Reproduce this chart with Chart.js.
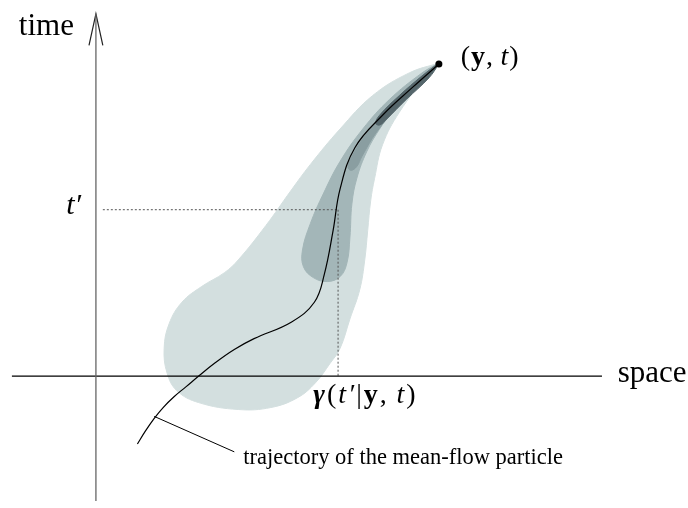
<!DOCTYPE html>
<html>
<head>
<meta charset="utf-8">
<script src="https://cdn.jsdelivr.net/npm/chart.js@4.4.0/dist/chart.umd.min.js"></script>
<style>
  body { margin: 0; background: #fff; }
  canvas { display: block; }
</style>
</head>
<body>
<canvas id="sketch" width="688" height="508"></canvas>
<script>
// all points in (space, time) units, origin where the two axes cross

// light probability cloud
const outerCloud = [[347,318],[317,308],[280,285],[247,251],[217,215],[197,188],[172,153],[144,118],[130,105],
  [107,91],[87,75],[74,53],[69,28],[72,3],[82,-15],[104,-27],[144,-34],[177,-32],[204,-22],[222,-7],
  [237,13],[247,28],[257,58],[267,88],[272,118],[275,148],[278,178],[282,201],[290,235],[307,268],
  [337,308],[347,317]];
// medium band
const midCloud = [[347,318],[330,308],[297,281],[270,251],[247,218],[230,185],[217,155],[209,128],[210,111],
  [220,100],[234,96],[247,101],[254,115],[257,141],[259,175],[264,201],[274,228],[287,251],[304,275],
  [324,298],[344,315],[347,317]];
// darker core
const innerCloud = [[347,318],[340,313],[314,288],[290,265],[270,241],[259,223],[255,213],[258,209],
  [264,213],[269,223],[284,248],[307,275],[337,305],[347,317]];
const coreStreak = [[347,318],[330,305],[307,285],[287,265],[283,257],[287,255],[294,261],[314,281],
  [337,303],[347,317]];

// mean-flow particle trajectory
const trajectory = [[42,-69],[50,-56],[59,-43],[68,-32],[79,-21],[91,-11],[104,0],[120,13],[140,27],
  [160,38],[198,55],[221,75],[231,103],[240,148],[247,190],[262,232],[290,265],[320,293],[347,317]];
const leader = [[59,-41],[140,-77]];

const endPoint = [[347,317]];
const tPrime = 169;
const gammaX = 245;

// axes
const timeAxis = [[0,-127],[0,368]];
const arrowHead = [[-7,336],[0,368],[7,336]];
const spaceAxis = [[-85,0],[512,0]];

// text labels: pieces of [text, style]
const labels = [
  { at: [-78,347], size: 31, gap: 0, parts: [['time','']] },
  { at: [528,-6], size: 31, gap: 0, parts: [['space','']] },
  { at: [-30,165], size: 30, gap: 0, parts: [['t\u2032','italic']] },
  { at: [369,316], size: 28, gap: 1, parts: [['(',''],['y','bold'],[',\u2009',''],['t','italic'],[')','']] },
  { at: [220,-27], size: 28, gap: 2, parts: [['\u03b3','bold italic'],['(',''],['t\u2032','italic'],['|',''],['y','bold'],[',\u2009',''],['t','italic'],[')','']] },
  { at: [149,-89], size: 22.5, gap: 0, parts: [['trajectory of the mean-flow particle','']] }
];

function pts(list) { return list.map(function(p) { return {x: p[0], y: p[1]}; }); }

function cloud(list, color, order) {
  return { data: pts(list), showLine: true, fill: 'shape', backgroundColor: color, borderColor: color,
    borderWidth: 1, pointRadius: 0, tension: 0.4, order: order };
}
function stroke(list, color, width, dash, order, tension) {
  return { data: pts(list), showLine: true, fill: false, borderColor: color, borderWidth: width,
    borderDash: dash, pointRadius: 0, tension: tension || 0, order: order };
}

const textPlugin = {
  id: 'texts',
  afterDatasetsDraw(chart) {
    const ctx = chart.ctx;
    const sx = chart.scales.x, sy = chart.scales.y;
    ctx.save();
    ctx.fillStyle = '#000';
    ctx.textBaseline = 'alphabetic';
    ctx.textAlign = 'left';
    labels.forEach(function(l) {
      let x = sx.getPixelForValue(l.at[0]);
      const y = sy.getPixelForValue(l.at[1]);
      ctx.letterSpacing = l.gap + 'px';
      l.parts.forEach(function(p) {
        ctx.font = (p[1] ? p[1] + ' ' : '') + l.size + 'px "Liberation Serif"';
        ctx.fillText(p[0], x, y);
        x += ctx.measureText(p[0]).width;
      });
    });
    ctx.restore();
  }
};

const ctx = document.getElementById('sketch').getContext('2d');
new Chart(ctx, {
  type: 'scatter',
  data: {
    datasets: [
      cloud(outerCloud, '#d3dfdf', 9),
      cloud(midCloud, '#a3b6b8', 8),
      cloud(innerCloud, '#8a9ea1', 7),
      cloud(coreStreak, '#55666b', 6),
      stroke([[7,tPrime],[gammaX,tPrime]], '#555', 1, [2,2], 5),
      stroke([[gammaX,tPrime],[gammaX,0]], '#555', 1, [2,2], 5),
      stroke(timeAxis, '#666', 1.3, [], 4),
      stroke(arrowHead, '#222', 1.2, [], 4),
      stroke(spaceAxis, '#000', 1.2, [], 4),
      stroke(trajectory, '#000', 1.2, [], 2, 0.4),
      stroke(leader, '#000', 1, [], 2),
      { data: pts(endPoint), pointRadius: 3.5, pointBackgroundColor: '#000', pointBorderWidth: 0, order: 1 }
    ]
  },
  options: {
    responsive: false,
    animation: false,
    events: [],
    layout: { padding: 0 },
    scales: {
      x: { type: 'linear', min: -93, max: 595, display: false },
      y: { type: 'linear', min: -130, max: 378, display: false }
    },
    plugins: { legend: { display: false }, tooltip: { enabled: false } }
  },
  plugins: [textPlugin]
});
</script>
</body>
</html>
